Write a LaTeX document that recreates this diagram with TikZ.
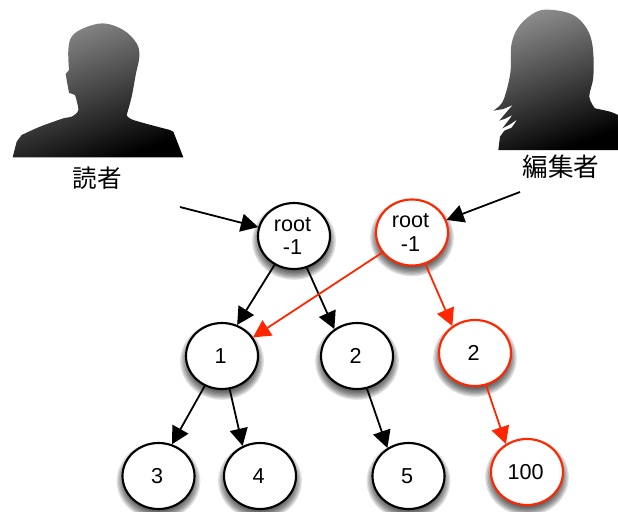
\documentclass[tikz,border=0pt]{standalone}
\usepackage{fontspec}
\setmainfont{Liberation Sans}
\newfontfamily\cjk{Noto Sans CJK JP}
\usetikzlibrary{arrows.meta,shapes.geometric}
\definecolor{redline}{RGB}{255,38,0}
\tikzset{
  treenode/.style={ellipse,draw=black,line width=1.6pt,fill=white,minimum width=54pt,minimum height=49.5pt,inner sep=0pt,align=center,font=\fontsize{16.2}{17.6}\selectfont,execute at end node=\kern2.2pt},
  rednode/.style={treenode,draw=redline},
  link/.style={line width=1.35pt,draw=black,-{Triangle[length=13pt,width=13.5pt]}},
  redlink/.style={link,draw=redline,-{Triangle[length=13pt,width=13.5pt,fill=redline]}},
  person/.style={top color=black!46,bottom color=black,shading angle=20},
  caption/.style={font=\cjk}
}
\newcommand{\softshadow}[2]{%
  \foreach \g in {0,1,...,7}{%
    \fill[black,opacity=0.12] (#1,#2+5) ellipse [x radius=27.4pt+4pt-\g*1pt,y radius=25.1pt+4pt-\g*1pt];
  }%
}
\begin{document}
\begin{tikzpicture}[x=0.75pt,y=-0.75pt]
\useasboundingbox (0,0) rectangle (618,511);
% reader silhouette
\begin{scope}[x=0.25pt,y=-0.25pt]
\shade[person] (38,472) -- (50,425) -- (65,405)
  -- plot[smooth,tension=.5] coordinates {(65,405) (120,380) (190,355) (215,350) (235,330) (225,285)}
  -- (207,278) -- (200,240) -- (197,222) -- (207,210)
  -- plot[smooth,tension=.6] coordinates {(207,210) (205,150) (215,110) (250,85) (310,70) (370,90) (410,130) (418,170) (408,220) (395,290) (380,345)}
  -- plot[smooth,tension=.5] coordinates {(380,345) (400,360) (510,390)}
  -- (520,395) -- (550,472) -- cycle;
\end{scope}
% editor silhouette
\begin{scope}[x=0.25pt,y=-0.25pt,xshift=352.5pt]
\shade[person] (85,450) -- (90,410) -- (103,392) -- (125,383) -- (142,358) -- (122,372) -- (97,385)
  -- (115,362) -- (127,345) -- (105,356) -- (88,362) -- (108,338) -- (128,315) -- (100,327) -- (70,332)
  -- plot[smooth,tension=.6] coordinates {(70,332) (95,310) (110,270) (122,210) (125,130) (150,75) (200,35) (250,30) (310,45) (350,85) (368,140) (370,230) (358,290) (375,325)}
  -- plot[smooth,tension=.5] coordinates {(375,325) (420,335) (444,345)}
  -- (444,450) -- cycle;
\end{scope}
% shadows
\softshadow{294}{236}\softshadow{412}{232.5}
\softshadow{222}{356}\softshadow{357}{356}\softshadow{475}{353}
\softshadow{158.5}{476}\softshadow{260}{476}\softshadow{408.5}{476}\softshadow{527}{472}
% nodes
\node[caption,font=\cjk\fontsize{18.4}{20}\selectfont] (reader) at (97.5,178) {読者};
\node[caption,font=\cjk\fontsize{19.2}{20}\selectfont] (editor) at (561,167) {編集者};
\node[treenode] (r1) at (294,236) {root\\-1};
\node[rednode] (r2) at (412,232.5) {root\\-1};
\node[treenode] (n1) at (222,356) {1};
\node[treenode] (n2) at (357,356) {2};
\node[rednode] (m2) at (475,353) {2};
\node[treenode] (n3) at (158.5,476) {3};
\node[treenode] (n4) at (260,476) {4};
\node[treenode] (n5) at (408.5,476) {5};
\node[rednode] (m100) at (527,472) {100};
\coordinate (rs) at (180,207);
\coordinate (es) at (520,192);
% connectors
\draw[link] (rs) -- (r1.166);
\draw[link] (es) -- (r2.20.5);
\draw[link] (r1.236.8) -- (n1.64);
\draw[link] (r1.-68) -- (n2.130.8);
\draw[link] (n1.240) -- (n3.67.7);
\draw[link] (n1.-77.7) -- (n4.120);
\draw[link] (n2.-73.5) -- (n5.127);
\draw[redlink] (r2.214) -- (n1.31);
\draw[redlink] (r2.-67.5) -- (m2.130.6);
\draw[redlink] (m2.-71.6) -- (m100.127);
\end{tikzpicture}
\end{document}
